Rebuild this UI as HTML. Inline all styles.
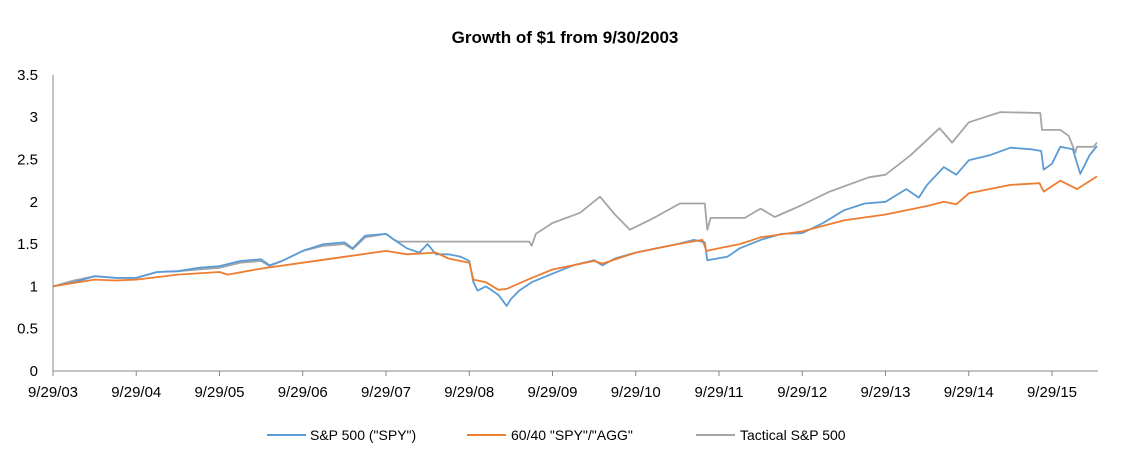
<!DOCTYPE html>
<html><head><meta charset="utf-8"><style>
body{margin:0;background:#fff;}
svg{display:block;font-family:"Liberation Sans",Arial,sans-serif;}
</style></head><body>
<svg id="chart" width="1125" height="469">
<text x="565" y="43" text-anchor="middle" font-size="17" font-weight="bold" fill="#000">Growth of $1 from 9/30/2003</text>
<g id="yaxis"></g>
<g id="xaxis"></g>
<g id="series"></g>
<g>
<g><line x1="267" y1="435" x2="306" y2="435" stroke="#5b9bd5" stroke-width="2"/><text x="310" y="440" font-size="14">S&amp;P 500 ("SPY")</text></g>
<g><line x1="467" y1="435" x2="506" y2="435" stroke="#ed7d31" stroke-width="2"/><text x="511" y="440" font-size="14">60/40 "SPY"/"AGG"</text></g>
<g><line x1="696" y1="435" x2="735" y2="435" stroke="#a5a5a5" stroke-width="2"/><text x="740" y="440" font-size="14">Tactical S&amp;P 500</text></g>
</g>
</svg>
<script>
const yTicks=[0,0.5,1,1.5,2,2.5,3,3.5];
const xTickLabels=["9/29/03","9/29/04","9/29/05","9/29/06","9/29/07","9/29/08","9/29/09","9/29/10","9/29/11","9/29/12","9/29/13","9/29/14","9/29/15"];
const spyT=[0,0.25,0.5,0.75,1,1.25,1.5,1.75,2,2.25,2.5,2.6,2.75,3,3.25,3.5,3.6,3.75,4,4.1,4.25,4.4,4.5,4.6,4.75,4.9,5,5.05,5.1,5.2,5.35,5.45,5.5,5.6,5.75,6,6.25,6.5,6.6,6.75,7,7.25,7.5,7.7,7.83,7.86,8.1,8.25,8.5,8.75,9,9.25,9.5,9.75,10,10.25,10.4,10.5,10.7,10.85,11,11.25,11.5,11.75,11.87,11.9,12,12.1,12.25,12.34,12.45,12.54];
const spyV=[1,1.05,1.12,1.1,1.1,1.17,1.18,1.22,1.24,1.3,1.32,1.25,1.3,1.42,1.5,1.52,1.45,1.6,1.62,1.55,1.45,1.4,1.5,1.38,1.38,1.35,1.3,1.05,0.95,1.0,0.9,0.77,0.85,0.95,1.05,1.15,1.25,1.31,1.25,1.33,1.4,1.45,1.5,1.55,1.52,1.31,1.35,1.45,1.55,1.62,1.63,1.75,1.9,1.98,2.0,2.15,2.05,2.2,2.41,2.32,2.49,2.55,2.64,2.62,2.6,2.38,2.45,2.65,2.62,2.33,2.55,2.66];
const balT=[0,0.5,0.75,1,1.5,2,2.1,2.5,3,3.5,4,4.25,4.6,4.75,5,5.05,5.2,5.35,5.45,5.75,6,6.5,6.6,7,7.5,7.8,7.85,8,8.25,8.5,9,9.5,10,10.5,10.7,10.85,11,11.5,11.85,11.9,12.1,12.3,12.54];
const balV=[1,1.08,1.07,1.08,1.14,1.17,1.14,1.21,1.28,1.35,1.42,1.38,1.4,1.33,1.28,1.08,1.05,0.96,0.97,1.1,1.2,1.3,1.27,1.4,1.5,1.55,1.42,1.45,1.5,1.58,1.65,1.78,1.85,1.95,2.0,1.97,2.1,2.2,2.22,2.12,2.25,2.15,2.3];
const tacT=[0,0.25,0.5,0.75,1,1.25,1.5,1.75,2,2.25,2.5,2.6,2.75,3,3.25,3.5,3.6,3.75,4,4.1,4.15,5.72,5.75,5.8,6,6.33,6.57,6.75,6.93,7.2,7.53,7.83,7.86,7.9,8.31,8.5,8.67,8.97,9.33,9.8,10,10.3,10.65,10.8,11,11.38,11.86,11.88,12.1,12.2,12.28,12.3,12.5,12.54];
const tacV=[1,1.07,1.12,1.1,1.1,1.17,1.18,1.2,1.22,1.28,1.3,1.24,1.3,1.42,1.48,1.5,1.44,1.58,1.62,1.55,1.53,1.53,1.48,1.62,1.75,1.87,2.06,1.85,1.67,1.8,1.98,1.98,1.67,1.81,1.81,1.92,1.82,1.95,2.12,2.29,2.32,2.55,2.87,2.7,2.94,3.06,3.05,2.85,2.85,2.78,2.58,2.65,2.65,2.7];
const NS="http://www.w3.org/2000/svg";
const X0=53,PX=83.25,Y0=371,PY=84.6;
const xs=t=>X0+t*PX, ys=v=>Y0-v*PY;
function mk(tag,attrs,parent){const e=document.createElementNS(NS,tag);for(const k in attrs)e.setAttribute(k,attrs[k]);parent.appendChild(e);return e;}
const ya=document.getElementById('yaxis'),xa=document.getElementById('xaxis'),sg=document.getElementById('series');
mk('line',{x1:X0,y1:ys(3.5),x2:X0,y2:Y0,stroke:'#888','stroke-width':1},ya);
yTicks.forEach(v=>{const t=mk('text',{x:38,y:ys(v)+5,'text-anchor':'end','font-size':15},ya);t.textContent=String(v);

});
mk('line',{x1:X0,y1:Y0,x2:1098,y2:Y0,stroke:'#888','stroke-width':1},xa);
xTickLabels.forEach((l,i)=>{mk('line',{x1:xs(i),y1:Y0,x2:xs(i),y2:Y0+5,stroke:'#888'},xa);
const t=mk('text',{x:xs(i),y:Y0+26,'text-anchor':'middle','font-size':15},xa);t.textContent=l;

});
function line(T,V,color,name){const d=T.map((t,i)=>(i?'L':'M')+xs(t).toFixed(1)+','+ys(V[i]).toFixed(1)).join('');
const p=mk('path',{d:d,fill:'none',stroke:color,'stroke-width':1.8,'stroke-linejoin':'round'},sg);

}
line(tacT,tacV,'#a5a5a5','tactical-line');
line(spyT,spyV,'#5b9bd5','spy-line');
line(balT,balV,'#ed7d31','sixty-forty-line');
</script>
</body></html>
